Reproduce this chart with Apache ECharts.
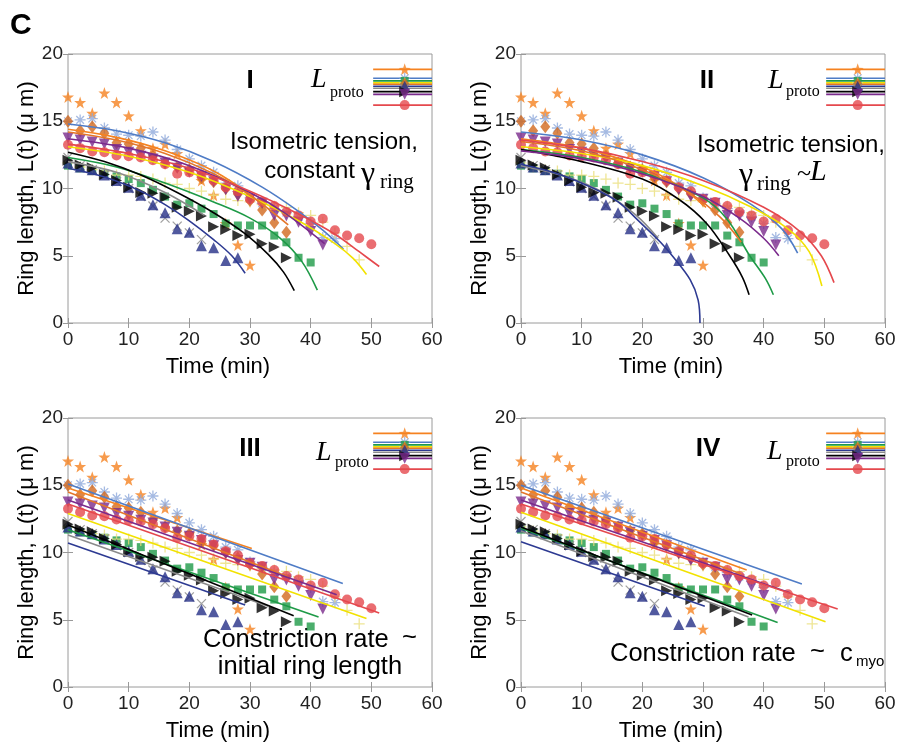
<!DOCTYPE html>
<html><head><meta charset="utf-8">
<script src="https://cdn.jsdelivr.net/npm/echarts@6/dist/echarts.min.js"></script>
<style>html,body{margin:0;padding:0;background:#fff}#c{width:901px;height:746px}</style>
</head><body><div id="c"></div>
<script>
// ---------- data ----------
const times = [0,2,4,6,8,10,12,14,16,18,20,22,24,26,28,30,32,34,36,38,40,42,44,46,48,50];
const xTicks = [0,10,20,30,40,50,60];
const yTicks = [0,5,10,15,20];

const starL  = [16.8,16.4,15.6,17.1,16.4,15.4,14.3,13.0,13.3,12.6,11.4,10.6,9.5,7.4,5.8,4.3];
const astL   = [15.0,15.1,15.2,14.5,14.05,13.96,13.9,14.2,13.6,12.9,12.2,11.7,11.2,10.4,10.2,9.3,8.9,8.5,8.2,7.9,7.4,6.35,6.27];
const sqL    = [11.7,11.5,11.3,11.1,10.9,10.7,10.4,9.9,9.4,8.8,8.9,8.5,8.1,7.4,7.25,7.25,7.25,6.5,6.0,4.85,4.5];
const plusL  = [11.9,11.6,11.4,11.3,11.0,11.0,10.9,10.7,10.4,10.3,10.0,9.8,9.5,9.2,9.1,9.0,8.8,8.7,8.6,8.2,8.0,7.5,6.7,5.7,4.7];
const diaL   = [15.0,14.3,14.6,14.1,13.4,13.3,13.0,12.4,11.9,11.6,11.4,10.8,10.5,10.0,9.6,9.1,8.4,7.45,6.75];
const triL   = [11.9,11.6,11.4,11.0,10.6,10.1,9.5,8.8,8.2,7.0,6.75,5.75,5.6,4.65,4.85];
const xL     = [12.3,11.7,11.4,11.0,10.5,10.0,9.4,8.7,7.8,7.2,6.7,6.2];
const rtriL  = [12.1,11.75,11.55,11.05,10.6,10.1,9.7,9.65,9.35,8.6,8.3,7.95,7.15,6.95,6.5,6.6,5.9,5.65,4.85];
const dtriL  = [13.75,13.6,13.45,13.3,12.9,12.7,12.4,12.2,11.9,11.5,11.2,10.9,10.5,9.9,9.4,9.2,8.9,8.0,7.95,7.5,6.8,5.8];
const circL  = [13.25,13.0,12.75,12.7,12.45,12.4,12.3,12.1,11.8,11.1,11.2,11.0,10.6,10.1,9.8,9.2,9.0,8.7,8.25,8.0,7.55,7.75,6.9,6.5,6.3,5.85];

// L_proto legend levels (order: orange, blue, green, yellow, brown, gray, navy, black, purple, red)
const protoL = [18.86,18.2,18.0,17.85,17.75,17.45,17.6,17.2,17.0,16.2];
const protoT = [50.3,60];
const protoMarkT = 55.5;

// fit curves, panel I (isometric tension, constant gamma)
const fitI = {
  orange:[[0,14.4],[8,13.8],[16,12.8],[24,11.3],[30.5,9.4]],
  blue:[[0,14.8],[8,14.3],[16,13.4],[24,12.0],[32,10.1],[38,8.3],[42,6.9],[45.4,5.5]],
  green:[[0,12.3],[8,11.6],[16,10.4],[24,9.0],[30,7.8],[35,6.3],[38.5,4.6],[41.1,2.45]],
  yellow:[[0,13.1],[10,12.4],[20,11.2],[30,9.4],[38,7.6],[44,5.9],[47,4.8],[49.2,3.6]],
  brown:[[0,14.2],[8,13.6],[16,12.6],[24,11.1],[30,9.5],[36.3,7.3]],
  gray:[[0,12.0],[8,11.2],[16,9.7],[22.5,8.0]],
  navy:[[0,11.5],[6,10.85],[12,9.8],[16,8.8],[20,7.6],[24,6.2],[27,5.0],[29.2,3.7]],
  black:[[0,12.7],[6,12.0],[12,11.0],[18,9.7],[24,8.2],[29,6.7],[33,5.1],[35.5,3.8],[37.3,2.4]],
  purple:[[0,13.7],[10,13.0],[20,11.7],[30,9.7],[36,8.1],[42.3,5.9]],
  red:[[0,13.3],[10,12.6],[20,11.5],[30,9.8],[38,8.1],[44,6.6],[48,5.3],[51.3,4.2]]
};
// panel II (isometric tension, gamma ~ L)
const fitII = {
  orange:[[0,13.7],[10,13.0],[20,11.6],[26,10.2],[30.5,8.6]],
  blue:[[0,14.2],[10,13.6],[20,12.5],[30,10.8],[38,8.8],[43,7.0],[45.6,5.2]],
  green:[[0,12.9],[10,12.3],[20,11.2],[30,9.3],[34,7.7],[37.7,5.0],[40.3,3.3],[41.6,2.1]],
  yellow:[[0,13.1],[10,12.6],[20,11.7],[30,10.2],[38,8.6],[44,7.0],[47.5,5.3],[49.6,2.75]],
  brown:[[0,13.5],[10,12.8],[20,11.4],[28,9.6],[33,7.8],[36.3,6.0]],
  gray:[[0,11.7],[8,10.8],[14,9.6],[19,8.0],[22.6,6.3]],
  navy:[[0,11.8],[6,11.1],[12,10.0],[16,9.0],[19.6,7.5],[23,6.0],[25.1,4.9],[27.9,3.2],[29.2,1.7],[29.5,0]],
  black:[[0,12.9],[10,12.0],[20,10.7],[26,9.2],[30.6,7.4],[34.4,5.0],[36.5,3.4],[37.6,2.1]],
  purple:[[0,12.8],[10,12.2],[20,11.1],[30,9.4],[36,7.8],[40,6.3],[42.5,5.0]],
  red:[[0,13.6],[10,13.0],[20,12.0],[30,10.6],[40,8.6],[46,6.8],[49.5,5.0],[51.6,3.0]]
};
// panel III (rate ~ initial length)
const fitIII = {
  orange:[[0,14.8],[30.3,10.3]], blue:[[0,15.1],[45.3,7.7]], green:[[0,11.7],[41.3,5.2]],
  yellow:[[0,12.9],[49.2,5.1]], brown:[[0,14.5],[36.3,8.2]], gray:[[0,11.3],[33,6.0]],
  navy:[[0,10.7],[29.2,6.1]], black:[[0,12.05],[37.2,5.3]], purple:[[0,13.9],[44.3,6.85]],
  red:[[0,13.6],[51.3,5.5]]
};
// panel IV (rate ~ c_myo)
const fitIV = {
  orange:[[0,14.8],[37.2,8.7]], blue:[[0,15.0],[46.3,7.65]], green:[[0,11.8],[42.3,4.8]],
  yellow:[[0,13.0],[50.2,4.85]], brown:[[0,14.5],[36.3,8.4]], gray:[[0,11.6],[37.5,5.2]],
  navy:[[0,10.8],[30.3,6.0]], black:[[0,11.9],[38.1,5.35]], purple:[[0,13.9],[44.3,7.0]],
  red:[[0,13.6],[52.2,5.8]]
};

// ---------- styles ----------
const STAR = 'path://M0,-10L2.35,-3.24L9.51,-3.09L3.8,1.24L5.88,8.09L0,4L-5.88,8.09L-3.8,1.24L-9.51,-3.09L-2.35,-3.24Z';
const AST = 'path://M5,0L5,10M0,5L10,5M1.5,1.5L8.5,8.5M1.5,8.5L8.5,1.5';
const PLUS = 'path://M5,0L5,10M0,5L10,5';
const XS = 'path://M0,0L10,10M0,10L10,0';
const SER = [
  {key:'orange', vals:starL, sym:STAR, size:12, fill:'#F58220', line:'#F58220'},
  {key:'blue',   vals:astL,  sym:AST,  size:11, stroke:'#8EA9DB', line:'#4F7CC6'},
  {key:'green',  vals:sqL,   sym:'rect', size:8, fill:'#1E9A47', line:'#1E9A47'},
  {key:'yellow', vals:plusL, sym:PLUS, size:11, stroke:'#EADF7A', line:'#F2E200'},
  {key:'brown',  vals:diaL,  sym:'diamond', size:[10,13], fill:'#D2691E', line:'#E4762A'},
  {key:'gray',   vals:xL,    sym:XS, size:9, stroke:'#8A8A8A', line:'#8A8A8A'},
  {key:'navy',   vals:triL,  sym:'triangle', size:11, fill:'#262F87', line:'#2D3A92'},
  {key:'black',  vals:rtriL, sym:'triangle', rot:-90, size:11, fill:'#000', line:'#000'},
  {key:'purple', vals:dtriL, sym:'triangle', rot:180, size:11, fill:'#7A2A8C', line:'#7A2A8C'},
  {key:'red',    vals:circL, sym:'circle', size:10, fill:'#E5484D', line:'#E5484D'}
];
const FITS = [fitI, fitII, fitIII, fitIV];
const GRIDS = [
  {left:68, top:54, width:364, height:269},
  {left:521, top:54, width:364, height:269},
  {left:68, top:418, width:364, height:269},
  {left:521, top:418, width:364, height:269}
];
const SANS = '"Liberation Sans", Arial, Helvetica, sans-serif';
const SERIF = '"Liberation Serif", "Times New Roman", serif';

function markerStyle(s){
  if (s.stroke) return {color:'rgba(0,0,0,0)', borderColor:s.stroke, borderWidth:1.3};
  return {color:s.fill};
}

const xAxes = [], yAxes = [], series = [];
GRIDS.forEach((g, p) => {
  xAxes.push({type:'value', gridIndex:p, min:xTicks[0], max:xTicks[xTicks.length-1], interval:xTicks[1]-xTicks[0],
    position:'bottom', axisLine:{show:false}, splitLine:{show:false},
    axisTick:{inside:true, length:5, lineStyle:{color:'#999'}},
    axisLabel:{fontFamily:SANS, fontSize:19, color:'#222', margin:7}});
  yAxes.push({type:'value', gridIndex:p, min:yTicks[0], max:yTicks[yTicks.length-1], interval:yTicks[1]-yTicks[0],
    position:'left', axisLine:{show:false}, splitLine:{show:false},
    axisTick:{inside:true, length:5, lineStyle:{color:'#999'}},
    axisLabel:{fontFamily:SANS, fontSize:19, color:'#222', margin:5}});
});
GRIDS.forEach((g, p) => {
  xAxes.push({type:'value', gridIndex:p, min:xTicks[0], max:xTicks[xTicks.length-1], interval:xTicks[1]-xTicks[0],
    position:'top', axisLine:{show:false}, splitLine:{show:false}, axisLabel:{show:false},
    axisTick:{inside:true, length:5, lineStyle:{color:'#999'}}});
  yAxes.push({type:'value', gridIndex:p, min:yTicks[0], max:yTicks[yTicks.length-1], interval:yTicks[1]-yTicks[0],
    position:'right', axisLine:{show:false}, splitLine:{show:false}, axisLabel:{show:false},
    axisTick:{inside:true, length:5, lineStyle:{color:'#999'}}});
});

GRIDS.forEach((g, p) => {
  SER.forEach(s => {
    series.push({type:'scatter', xAxisIndex:p, yAxisIndex:p, z:2, silent:true,
      symbol:s.sym, symbolSize:s.size, symbolRotate:s.rot||0,
      itemStyle:markerStyle(s),
      data:s.vals.map((v,i)=>[times[i], v])});
  });
  SER.forEach(s => {
    const pts = FITS[p][s.key];
    series.push({type:'line', xAxisIndex:p, yAxisIndex:p, z:3, silent:true,
      showSymbol:false, smooth:pts.length>2 ? 0.35 : false,
      lineStyle:{color:s.line, width:1.6}, data:pts});
  });
  SER.forEach((s,i) => {
    series.push({type:'line', xAxisIndex:p, yAxisIndex:p, z:4, silent:true, showSymbol:false,
      lineStyle:{color:s.line, width:1.6}, data:protoT.map(t=>[t, protoL[i]])});
    series.push({type:'scatter', xAxisIndex:p, yAxisIndex:p, z:5, silent:true,
      symbol:s.sym, symbolSize:s.size, symbolRotate:s.rot||0, itemStyle:markerStyle(s),
      data:[[protoMarkT, protoL[i]]]});
  });
});

// ---------- texts ----------
const G = [];
function txt(x, y, text, font, align, rot){
  const e = {type:'text', x:x, y:y, silent:true,
    style:{text:text, font:font, fill:'#000', align:align||'left', verticalAlign:'middle'}};
  if (rot) e.rotation = rot;
  return e;
}
G.push(txt(10, 26, 'C', 'bold 30px '+SANS));
GRIDS.forEach(g => {
  G.push(txt(g.left-41, g.top+g.height/2, 'Ring length, L(t) (\u03bc m)', '22px '+SANS, 'center', Math.PI/2));
  G.push(txt(g.left+g.width/2-32, g.top+g.height+44, 'Time (min)', '22px '+SANS, 'center'));
});
G.push(txt(250, 81, 'I', 'bold 26px '+SANS, 'center'));
G.push(txt(707, 81, 'II', 'bold 26px '+SANS, 'center'));
G.push(txt(250, 449, 'III', 'bold 26px '+SANS, 'center'));
G.push(txt(708, 449, 'IV', 'bold 26px '+SANS, 'center'));
[[311,80,330,93],[768,81,786,92],[316,453,335,463],[767,452,786,462]].forEach(q => {
  G.push(txt(q[0], q[1], 'L', 'italic 28px '+SERIF));
  G.push(txt(q[2], q[3], 'proto', '16px '+SERIF));
});
G.push(txt(418, 142, 'Isometric tension,', '24px '+SANS, 'right'));
G.push(txt(355, 171, 'constant', '24px '+SANS, 'right'));
G.push(txt(361, 175, '\u03b3', '32px '+SERIF));
G.push(txt(380, 182, 'ring', '21px '+SERIF));
G.push(txt(885, 145, 'Isometric tension,', '24px '+SANS, 'right'));
G.push(txt(739, 176, '\u03b3', '32px '+SERIF));
G.push(txt(757, 184, 'ring', '21px '+SERIF));
G.push(txt(797, 174, '~', '26px '+SERIF));
G.push(txt(810, 172, 'L', 'italic 30px '+SERIF));
G.push(txt(203, 640, 'Constriction rate', '25.5px '+SANS, 'left'));
G.push(txt(402, 638, '~', '25.5px '+SANS, 'left'));
G.push(txt(310, 667, 'initial ring length', '25.5px '+SANS, 'center'));
G.push(txt(610, 654, 'Constriction rate', '25.5px '+SANS, 'left'));
G.push(txt(810, 652, '~', '25.5px '+SANS, 'left'));
G.push(txt(840, 654, 'c', '25.5px '+SANS, 'left'));
G.push(txt(856, 662, 'myo', '15px '+SANS, 'left'));

const chart = echarts.init(document.getElementById('c'), null, {renderer:'canvas'});
chart.setOption({
  animation:false,
  backgroundColor:'#fff',
  grid: GRIDS.map(g => Object.assign({show:true, borderColor:'#9a9a9a', borderWidth:1, backgroundColor:'transparent'}, g)),
  xAxis: xAxes, yAxis: yAxes, series: series, graphic: G
});
</script></body></html>
